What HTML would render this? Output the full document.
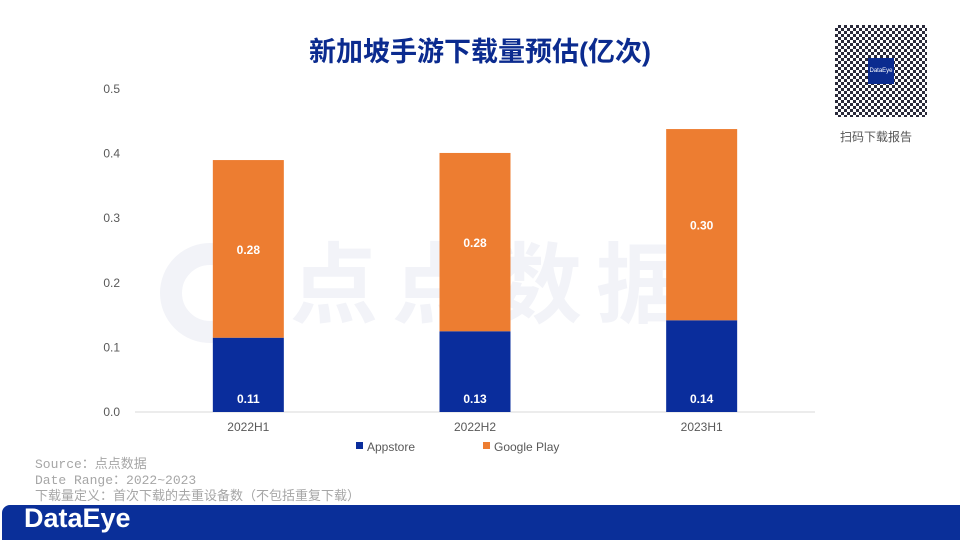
<!DOCTYPE html>
<html><head><meta charset="utf-8">
<style>
body{margin:0;width:960px;height:540px;background:#fff;overflow:hidden;position:relative;font-family:"Liberation Sans","Noto Sans CJK SC",sans-serif;}
.title{position:absolute;left:0;width:960px;top:30px;text-align:center;font-size:27px;font-weight:bold;color:#0b2b8f;}
.foot{position:absolute;left:35px;font-family:"Liberation Mono","Noto Sans CJK SC",monospace;font-size:13px;color:#a6a6a6;}
.band{position:absolute;left:2px;top:505px;width:958px;height:35px;background:#0a2f99;border-radius:8px 0 0 0;}
.logo{position:absolute;left:24px;top:503px;color:#fff;font-size:27px;font-weight:bold;}
</style></head><body>
<div class="title">新加坡手游下载量预估(亿次)</div>
<div style="position:absolute;left:160px;top:215px;font-size:88px;font-weight:bold;color:#f2f3f8;letter-spacing:14px"><span style="display:inline-block;width:100px;height:100px;border:22px solid #f2f3f8;border-radius:50%;box-sizing:border-box;vertical-align:middle;margin-right:30px"></span>点点数据</div>
<svg id="chart" width="960" height="540" style="position:absolute;left:0;top:0"></svg>
<div style="position:absolute;left:835px;top:25px;width:92px;height:92px;background:repeating-conic-gradient(#2a2a3a 0 25%,#fff 0 50%) 0 0/6px 6px"><div style="position:absolute;left:33px;top:33px;width:26px;height:26px;background:#0b2b8f;color:#fff;font-size:6px;text-align:center;line-height:26px">DataEye</div></div>
<div style="position:absolute;left:840px;top:128px;font-size:12px;color:#555">扫码下载报告</div>
<div class="foot" style="top:453px">Source：点点数据</div>
<div class="foot" style="top:469px">Date Range：2022~2023</div>
<div class="foot" style="top:485px">下载量定义：首次下载的去重设备数（不包括重复下载）</div>
<div class="band"></div>
<div class="logo">DataEye</div>
<script>
const categories=["2022H1","2022H2","2023H1"];
const appstore=[0.115,0.125,0.142];
const googlePlay=[0.275,0.276,0.296];
const appLabels=["0.11","0.13","0.14"];
const gpLabels=["0.28","0.28","0.30"];
const yTicks=[0,0.1,0.2,0.3,0.4,0.5];
const yTickLabels=["0.0","0.1","0.2","0.3","0.4","0.5"];
const svg=document.getElementById('chart');const NS="http://www.w3.org/2000/svg";
const y0=412,y1=89,vmax=0.5,xL=135,xR=815;
const y=v=>y0-(y0-y1)*v/vmax;
const xc=i=>xL+(xR-xL)/categories.length*(i+0.5);
function mk(t,a,txt){const e=document.createElementNS(NS,t);for(const k in a)e.setAttribute(k,a[k]);if(txt!==undefined)e.textContent=txt;svg.appendChild(e);return e;}
yTicks.forEach((v,i)=>{const e=mk('text',{x:120,y:y(v)+4,'text-anchor':'end','font-size':12,fill:'#595959'},yTickLabels[i]);

});
const ax=mk('line',{x1:xL,x2:xR,y1:y0,y2:y0,stroke:'#d9d9d9'});


const bw=71;
categories.forEach((c,i)=>{const x=xc(i)-bw/2;
const b1=mk('rect',{x:x,y:y(appstore[i]),width:bw,height:y(0)-y(appstore[i]),fill:'#0a2d9c'});


const tot=appstore[i]+googlePlay[i];
const b2=mk('rect',{x:x,y:y(tot),width:bw,height:y(appstore[i])-y(tot),fill:'#ed7d31'});


const l1=mk('text',{x:xc(i),y:y(0)-9,'text-anchor':'middle','font-size':12,'font-weight':'bold',fill:'#fff'},appLabels[i]);


const l2=mk('text',{x:xc(i),y:(y(appstore[i])+y(tot))/2+5,'text-anchor':'middle','font-size':12,'font-weight':'bold',fill:'#fff'},gpLabels[i]);


const t=mk('text',{x:xc(i),y:431,'text-anchor':'middle','font-size':12,fill:'#595959'},c);

});
const lg1=mk('rect',{x:356,y:442,width:7,height:7,fill:'#0a2d9c'});


const lt1=mk('text',{x:367,y:451,'font-size':12,fill:'#595959'},'Appstore');


const lg2=mk('rect',{x:483,y:442,width:7,height:7,fill:'#ed7d31'});


const lt2=mk('text',{x:494,y:451,'font-size':12,fill:'#595959'},'Google Play');


</script>
</body></html>
